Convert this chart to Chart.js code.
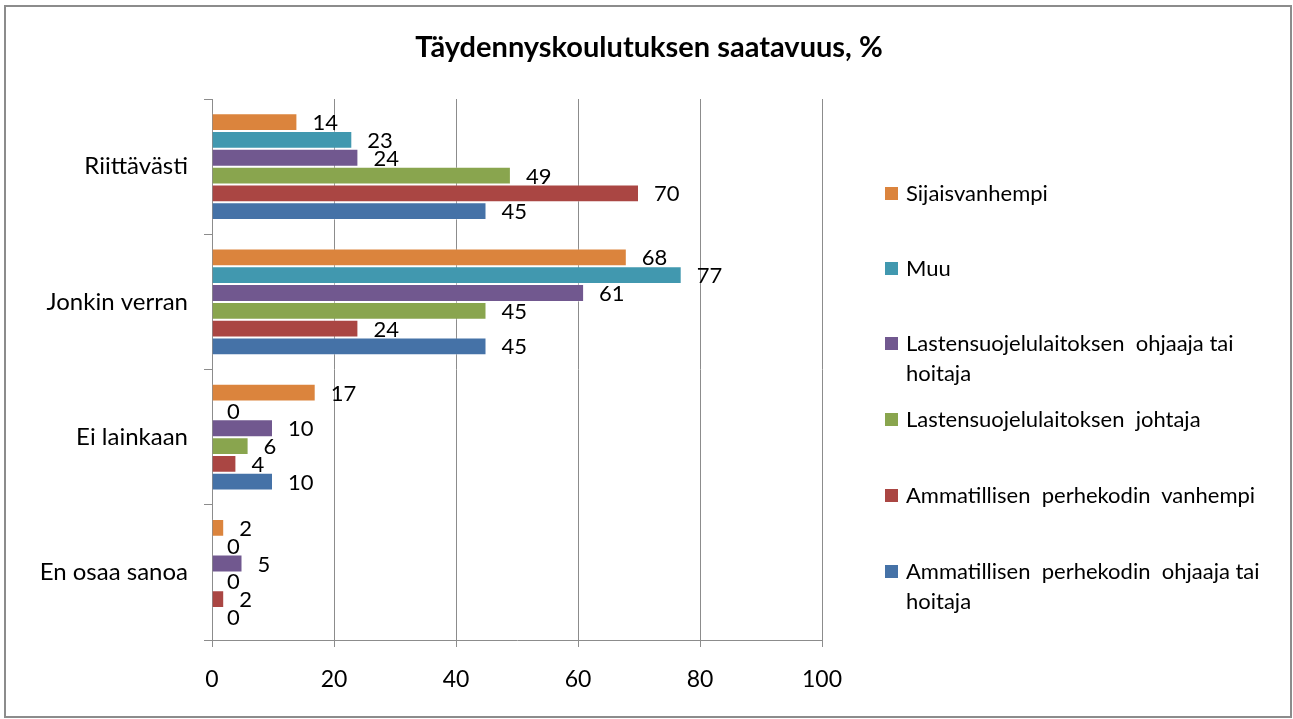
<!DOCTYPE html>
<html>
<head>
<meta charset="utf-8">
<script src="https://cdn.jsdelivr.net/npm/chart.js@4"></script>
<style>
  body { margin: 0; background: #fff; }
  #wrap { position: relative; width: 1293px; height: 719px; }
  #frame { position: absolute; left: 4px; top: 5px; width: 1284px; height: 709px; border: 2px solid #8c8c8c; }
  #c { position: absolute; left: 0; top: 0; }
  #legend { position: absolute; left: 885px; top: 0; font-family: Lato, sans-serif; font-size: 22px; color: #000; }
  .item { position: absolute; left: 0; width: 400px; line-height: 30px; white-space: nowrap; }
  .box { position: absolute; left: 0; top: 9px; width: 13px; height: 13px; }
  .txt { position: absolute; left: 21px; top: 0; }
</style>
</head>
<body>
<div id="wrap">
  <div id="frame"></div>
  <canvas id="c" width="1293" height="719"></canvas>
  <div id="legend"></div>
</div>
<script>
var title = 'Täydennyskoulutuksen saatavuus, %';
var categories = ['Riittävästi', 'Jonkin verran', 'Ei lainkaan', 'En osaa sanoa'];
var seriesNames = [
    'Sijaisvanhempi',
    'Muu',
    'Lastensuojelulaitoksen ohjaaja tai hoitaja',
    'Lastensuojelulaitoksen johtaja',
    'Ammatillisen perhekodin vanhempi',
    'Ammatillisen perhekodin ohjaaja tai hoitaja'
];
var legendLines = [
    ['Sijaisvanhempi'],
    ['Muu'],
    ['Lastensuojelulaitoksen  ohjaaja tai', 'hoitaja'],
    ['Lastensuojelulaitoksen  johtaja'],
    ['Ammatillisen  perhekodin  vanhempi'],
    ['Ammatillisen  perhekodin  ohjaaja tai', 'hoitaja']
];
var sijaisvanhempi = [14, 68, 17, 2];
var muu = [23, 77, 0, 0];
var lsOhjaaja = [24, 61, 10, 5];
var lsJohtaja = [49, 45, 6, 0];
var apVanhempi = [70, 24, 4, 2];
var apOhjaaja = [45, 45, 10, 0];
var xTicks = [0, 20, 40, 60, 80, 100];

var colors = ['#DB843D', '#4198AF', '#71588F', '#89A54E', '#AA4643', '#4572A7'];
var values = [sijaisvanhempi, muu, lsOhjaaja, lsJohtaja, apVanhempi, apOhjaaja];

var font = 'Lato, sans-serif';

// value labels at the end of each bar
var barLabels = {
    id: 'barLabels',
    afterDatasetsDraw: function(chart) {
        var ctx = chart.ctx;
        ctx.save();
        ctx.font = '22px ' + font;
        ctx.fillStyle = '#000';
        ctx.textAlign = 'left';
        ctx.textBaseline = 'middle';
        chart.data.datasets.forEach(function(ds, i) {
            chart.getDatasetMeta(i).data.forEach(function(bar, j) {
                ctx.fillText(String(ds.data[j]), bar.x + 15, bar.y + 1);
            });
        });
        ctx.restore();
    }
};

// title centred on the whole picture, not on the plot area
var chartTitle = {
    id: 'chartTitle',
    afterDraw: function(chart) {
        var ctx = chart.ctx;
        ctx.save();
        ctx.font = 'bold 29px ' + font;
        ctx.fillStyle = '#000';
        ctx.textAlign = 'center';
        ctx.textBaseline = 'middle';
        ctx.fillText(title, 649, 48);
        ctx.restore();
    }
};

var ctx = document.getElementById('c').getContext('2d');
var chart = new Chart(ctx, {
    type: 'bar',
    data: {
        labels: categories,
        datasets: seriesNames.map(function(name, i) {
            return {
                label: name,
                data: values[i],
                backgroundColor: colors[i],
                borderColor: 'rgba(255,255,255,0.35)',
                borderWidth: 1,
                categoryPercentage: 0.79,
                barPercentage: 1
            };
        })
    },
    options: {
        indexAxis: 'y',
        responsive: false,
        animation: false,
        layout: { padding: { left: 0, right: 471, top: 99, bottom: 0 } },
        scales: {
            x: {
                min: 0,
                max: 100,
                afterFit: function(scale) { scale.height = 79; },
                afterBuildTicks: function(scale) {
                    scale.ticks = xTicks.map(function(v) { return { value: v }; });
                },
                ticks: {
                    color: '#000',
                    padding: 19,
                    font: { size: 23, family: font }
                },
                grid: {
                    color: '#8c8c8c',
                    lineWidth: 1,
                    tickLength: 7
                },
                border: { color: '#8c8c8c', width: 1 }
            },
            y: {
                afterFit: function(scale) { scale.width = 212; },
                ticks: {
                    color: '#000',
                    padding: 16,
                    font: { size: 24, family: font }
                },
                grid: {
                    drawOnChartArea: false,
                    color: '#8c8c8c',
                    tickLength: 8,
                    offset: true
                },
                border: { color: '#8c8c8c', width: 1 }
            }
        },
        plugins: {
            legend: { display: false },
            tooltip: { enabled: false },
            title: { display: false }
        }
    },
    plugins: [barLabels, chartTitle]
});

// legend in the right-hand column
var legend = document.getElementById('legend');
var firstLineY = [193, 268, 343, 419, 495, 571];
legendLines.forEach(function(lines, i) {
    var item = document.createElement('div');
    item.className = 'item';
    item.style.top = (firstLineY[i] - 15) + 'px';
    var box = document.createElement('div');
    box.className = 'box';
    box.style.background = colors[i];
    var txt = document.createElement('div');
    txt.className = 'txt';
    txt.style.whiteSpace = 'pre';
    txt.textContent = lines.join('\n');
    item.appendChild(box);
    item.appendChild(txt);
    legend.appendChild(item);
});
</script>
</body>
</html>
